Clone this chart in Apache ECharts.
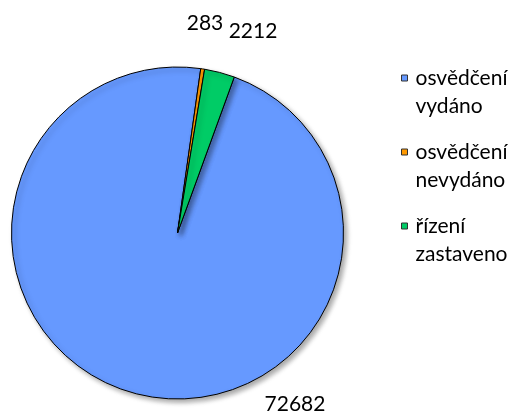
<!DOCTYPE html>
<html>
<head>
<meta charset="utf-8">
<script src="https://cdn.jsdelivr.net/npm/echarts@6/dist/echarts.min.js"></script>
<style>
  html, body { margin: 0; padding: 0; background: #fff; }
  #Echarts { width: 515px; height: 414px; }
</style>
</head>
<body>
<div id="Echarts"></div>
<script>
// data
var categories = ['osvědčení vydáno', 'osvědčení nevydáno', 'řízení zastaveno'];
var values = [72682, 283, 2212];
var colors = ['#6699ff', '#ff9900', '#00cc66'];

// label spots (Excel puts them wherever it likes)
var labelSpots = [[295, 404], [205, 23], [253, 31]];

var myChart = echarts.init(document.getElementById('Echarts'));

var option = {
    animation: false,
    textStyle: { fontFamily: 'Lato' },
    legend: {
        orient: 'vertical',
        left: 401,
        top: 64,
        padding: 0,
        itemGap: 18,
        itemWidth: 6,
        itemHeight: 34,
        // square on the first text line
        icon: 'path://M0,0L6,0L6,6L0,6Z M0,34L0,34',
        itemStyle: { shadowBlur: 0, shadowOffsetX: 0, shadowOffsetY: 0, borderWidth: 1, borderColor: '#333' },
        selectedMode: false,
        formatter: function (name) {
            return name.replace(' ', '\n');
        },
        textStyle: {
            fontFamily: 'Lato',
            fontSize: 21,
            lineHeight: 28,
            color: '#000',
            padding: [0, 0, 0, 3]
        },
        data: categories
    },
    series: [{
        type: 'pie',
        center: [177.5, 233],
        radius: 166,
        startAngle: 70,
        clockwise: true,
        silent: true,
        itemStyle: {
            borderColor: '#000',
            borderWidth: 1,
            shadowBlur: 5,
            shadowOffsetX: 3,
            shadowOffsetY: 3,
            shadowColor: 'rgba(0,0,0,0.35)'
        },
        label: {
            show: true,
            position: 'outside',
            formatter: '{c}',
            fontFamily: 'Lato',
            fontSize: 21,
            color: '#000'
        },
        labelLine: { show: false },
        labelLayout: function (params) {
            var p = labelSpots[params.dataIndex];
            return { x: p[0], y: p[1], align: 'center', verticalAlign: 'middle' };
        },
        data: categories.map(function (c, i) {
            return { name: c, value: values[i], itemStyle: { color: colors[i] } };
        })
    }]
};

myChart.setOption(option);
</script>
</body>
</html>
